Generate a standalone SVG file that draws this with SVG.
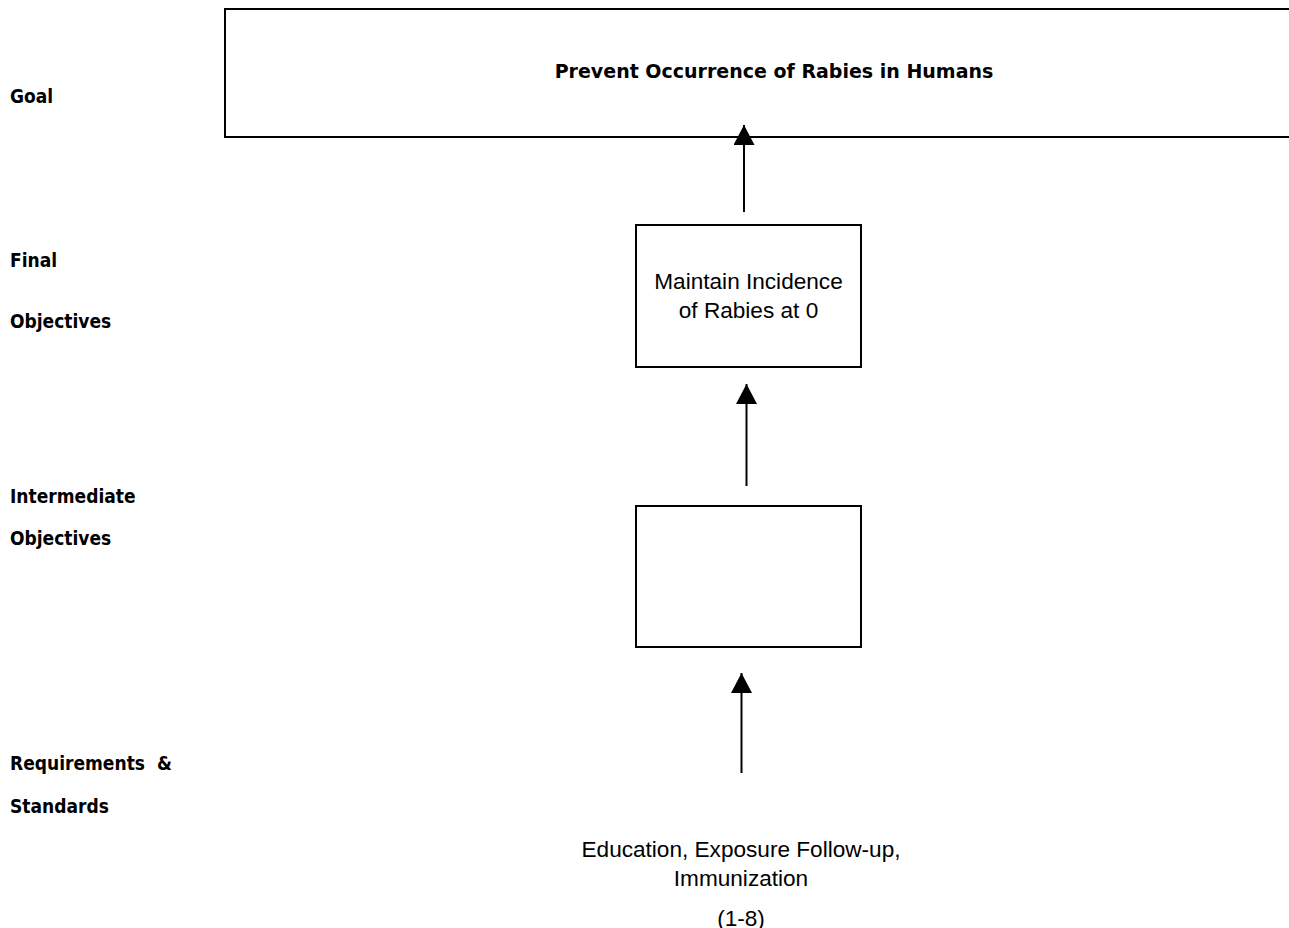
<svg xmlns="http://www.w3.org/2000/svg" width="1289" height="928" viewBox="0 0 1289 928">
  <style>
    .box { fill: #fff; stroke: #000; stroke-width: 2; }
    .label { font-family: "DejaVu Sans", "Liberation Sans", sans-serif; font-stretch: condensed; font-weight: bold; font-size: 19px; fill: #000; }
    .title { font-family: "DejaVu Sans", "Liberation Sans", sans-serif; font-weight: bold; font-size: 19px; fill: #000; text-anchor: middle; }
    .body { font-family: "Liberation Sans", Arial, sans-serif; font-size: 22.6px; fill: #000; text-anchor: middle; }
    .conn { stroke: #000; stroke-width: 2; fill: none; marker-end: url(#head); }
  </style>
  <defs>
    <marker id="head" viewBox="0 0 20 21" refX="20" refY="10.5" markerWidth="20" markerHeight="21" markerUnits="userSpaceOnUse" orient="auto">
      <path d="M0,0 L20,10.5 L0,21 Z" fill="#000"/>
    </marker>
  </defs>
  <rect width="1289" height="928" fill="#fff"/>

  <!-- level captions on the left -->
  <g id="level-labels">
    <text class="label" x="10" y="103">Goal</text>
    <text class="label" x="10" y="267">Final</text>
    <text class="label" x="10" y="328">Objectives</text>
    <text class="label" x="10" y="503">Intermediate</text>
    <text class="label" x="10" y="545">Objectives</text>
    <text class="label" x="10" y="770" xml:space="preserve">Requirements  &amp;</text>
    <text class="label" x="10" y="813">Standards</text>
  </g>

  <!-- goal box (runs off the right edge) -->
  <g id="goal">
    <rect class="box" x="225" y="9" width="1080" height="128"/>
    <text class="title" x="774" y="78">Prevent Occurrence of Rabies in Humans</text>
  </g>

  <g id="final-objective">
    <rect class="box" x="636" y="225" width="225" height="142"/>
    <text class="body" x="748.5" y="289">Maintain Incidence</text>
    <text class="body" x="748.5" y="318">of Rabies at 0</text>
  </g>

  <g id="intermediate-objective">
    <rect class="box" x="636" y="506" width="225" height="141"/>
  </g>

  <g id="requirements">
    <text class="body" x="741" y="857">Education, Exposure Follow-up,</text>
    <text class="body" x="741" y="886">Immunization</text>
    <text class="body" x="741" y="926">(1-8)</text>
  </g>

  <g id="connectors">
    <line class="conn" x1="744" y1="212" x2="744" y2="125"/>
    <line class="conn" x1="746.5" y1="486" x2="746.5" y2="384"/>
    <line class="conn" x1="741.5" y1="773" x2="741.5" y2="673"/>
  </g>
</svg>
